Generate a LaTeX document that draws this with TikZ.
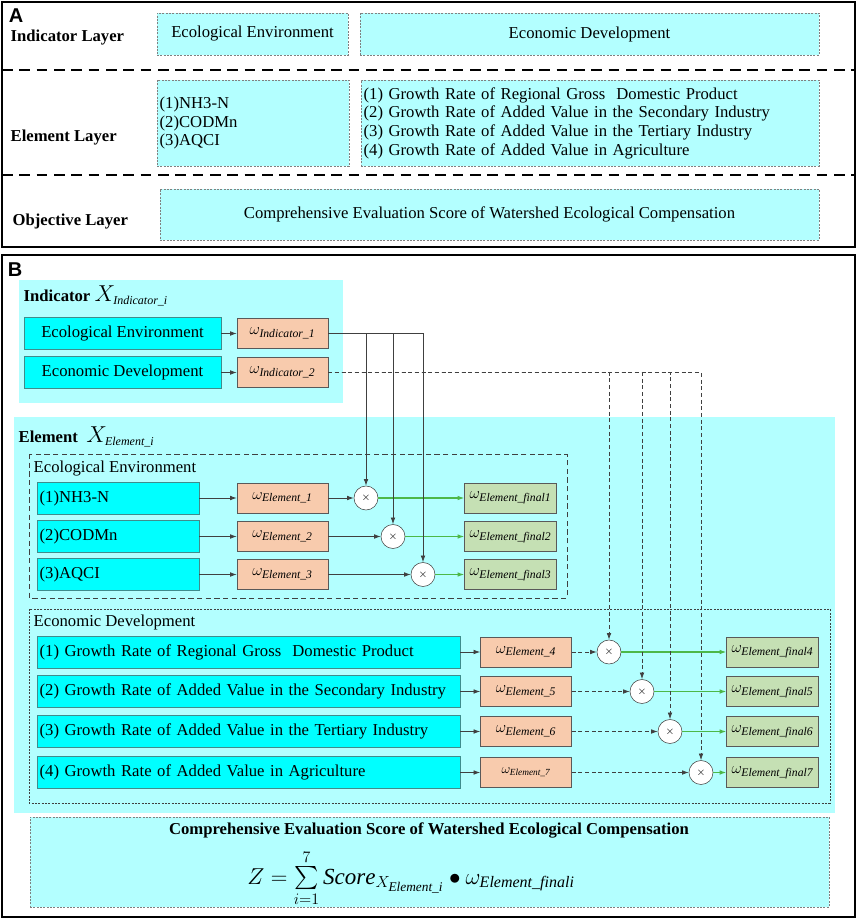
\documentclass[tikz,border=0pt]{standalone}
\usepackage{amsmath}
\usepackage{fontspec}
\setmainfont{Liberation Serif}
\setsansfont{Liberation Sans}
\usetikzlibrary{positioning,arrows.meta}

\definecolor{bgcyan}{HTML}{B3FFFF}
\definecolor{boxcyan}{HTML}{00FFFF}
\definecolor{boxedge}{HTML}{3F8C8C}
\definecolor{wsalmon}{HTML}{F8CBAD}
\definecolor{fgreen}{HTML}{C5E0B4}
\definecolor{agreen}{HTML}{4DB848}
\definecolor{lgrey}{HTML}{404040}

\newcommand{\basefont}{\fontsize{12.5}{14}\selectfont}
\newcommand{\wsub}[1]{$\omega_{\textit{#1}}$}

\begin{document}
\begin{tikzpicture}[x=0.75pt,y=-0.75pt,>={Latex[length=5pt,width=3.5pt]},
    font=\basefont,
    layerbox/.style={draw=gray,dash pattern=on 1.5pt off 1pt,fill=bgcyan,inner sep=2pt},
    cyanbox/.style={draw=boxedge,fill=boxcyan,minimum height=24pt,inner sep=2pt,align=left},
    wbox/.style={draw=gray!70!black,fill=wsalmon,minimum width=68.25pt,minimum height=22.5pt,inner sep=0pt},
    finalbox/.style={draw=gray!70!black,fill=fgreen,minimum width=69pt,minimum height=22.5pt,inner sep=0pt},
    mult/.style={draw=lgrey,circle,fill=white,minimum size=18pt,inner sep=0pt,font=\footnotesize},
    link/.style={draw=lgrey,line width=0.6pt,->},
    dlink/.style={link,dash pattern=on 3pt off 2pt},
    glink/.style={draw=agreen,line width=0.8pt,->},
    bold/.style={font=\basefont\bfseries}]
    \useasboundingbox (0,0) rectangle (858,920);

    % panel A
    \draw [line width=1.5pt] (2,2) rectangle (855,247);
    \node [font=\sffamily\bfseries\fontsize{15}{15}\selectfont] (labA) at (16,16) {A};
    \draw [line width=1.2pt,dash pattern=on 8pt off 5pt] (2,70) -- (855,70);
    \draw [line width=1.2pt,dash pattern=on 8pt off 5pt] (2,175) -- (855,175);

    \node [anchor=west,bold] (indLayer) at (6,38) {Indicator Layer};
    \node [anchor=west,bold] (elLayer) at (6,138) {Element Layer};
    \node [anchor=west,bold] (objLayer) at (8,222) {Objective Layer};

    \node [layerbox,minimum width=143.25pt,minimum height=31.5pt] (aEco) at (252.5,34) {Ecological Environment};
    \node [layerbox,minimum width=344.25pt,minimum height=31.5pt] (aEcon) at (589.5,34) {Economic Development};
    \node [layerbox,text width=140pt,minimum height=64.5pt,align=left] (aEcoEl) at (253,123)
        {(1)NH3-N\\(2)CODMn\\(3)AQCI};
    \node [layerbox,text width=339.5pt,minimum height=64.5pt,align=left] (aEconEl) at (590,123)
        {(1) Growth Rate of Regional Gross\ \ Domestic Product\\
         (2) Growth Rate of Added Value in the Secondary Industry\\
         (3) Growth Rate of Added Value in the Tertiary Industry\\
         (4) Growth Rate of Added Value in Agriculture};
    \node [layerbox,minimum width=494.25pt,minimum height=38.25pt] (aObj) at (489.5,214.5)
        {Comprehensive Evaluation Score of Watershed Ecological Compensation};

    % panel B
    \draw [line width=1.5pt] (2,255) rectangle (855,917);
    \node [font=\sffamily\bfseries\fontsize{15}{15}\selectfont] (labB) at (15,270) {B};

    \fill [bgcyan] (19,280) rectangle (343,403);
    \fill [bgcyan] (14,417) rectangle (835,813);

    \node [anchor=west] (indTitle) at (19,296)
        {\textbf{Indicator} \fontsize{16}{16}\selectfont$X_{\text{\fontsize{9}{9}\selectfont\itshape Indicator\_i}}$};
    \node [anchor=west] (elTitle) at (14,437)
        {\textbf{Element}\ \ \fontsize{16}{16}\selectfont$X_{\text{\fontsize{9}{9}\selectfont\itshape Element\_i}}$};

    \node [cyanbox,minimum width=147.75pt,align=center] (iEco) at (122.5,333.5) {Ecological Environment};
    \node [cyanbox,minimum width=147.75pt,align=center] (iEcon) at (122.5,372.5) {Economic Development};
    \node [wbox] (wInd1) at (282.5,333.5) {\wsub{Indicator\_1}};
    \node [wbox] (wInd2) at (282.5,372.5) {\wsub{Indicator\_2}};

    % ecological environment group
    \draw [lgrey,dash pattern=on 4pt off 2.5pt] (29,454) rectangle (567,598);
    \node [anchor=west] (ecoTitle) at (29,469) {Ecological Environment};

    \node [cyanbox,text width=117.5pt] (e1) at (118,498) {(1)NH3-N};
    \node [cyanbox,text width=117.5pt] (e2) at (118,536.5) {(2)CODMn};
    \node [cyanbox,text width=117.5pt] (e3) at (118,574.5) {(3)AQCI};
    \node [wbox] (we1) at (282.5,498) {\wsub{Element\_1}};
    \node [wbox] (we2) at (282.5,536.5) {\wsub{Element\_2}};
    \node [wbox] (we3) at (282.5,574.5) {\wsub{Element\_3}};
    \node [mult] (c1) at (366,498) {$\times$};
    \node [mult] (c2) at (393,536.5) {$\times$};
    \node [mult] (c3) at (423,574.5) {$\times$};
    \node [finalbox] (f1) at (510.5,498) {\wsub{Element\_final1}};
    \node [finalbox] (f2) at (510.5,536.5) {\wsub{Element\_final2}};
    \node [finalbox] (f3) at (510.5,574.5) {\wsub{Element\_final3}};

    % economic development group
    \draw [lgrey,dash pattern=on 1.5pt off 1pt] (29,609) rectangle (830,803);
    \node [anchor=west] (econTitle) at (29,622) {Economic Development};

    \node [cyanbox,text width=313.25pt] (e4) at (248.5,652) {(1) Growth Rate of Regional Gross\ \ Domestic Product};
    \node [cyanbox,text width=313.25pt] (e5) at (248.5,691.5) {(2) Growth Rate of Added Value in the Secondary Industry};
    \node [cyanbox,text width=313.25pt] (e6) at (248.5,731.5) {(3) Growth Rate of Added Value in the Tertiary Industry};
    \node [cyanbox,text width=313.25pt] (e7) at (248.5,772.5) {(4) Growth Rate of Added Value in Agriculture};
    \node [wbox] (we4) at (526,652) {\wsub{Element\_4}};
    \node [wbox] (we5) at (526,691.5) {\wsub{Element\_5}};
    \node [wbox] (we6) at (526,731.5) {\wsub{Element\_6}};
    \node [wbox,font=\fontsize{10}{10}\selectfont] (we7) at (526,772.5) {\wsub{Element\_7}};
    \node [mult] (c4) at (609,652) {$\times$};
    \node [mult] (c5) at (642,691.5) {$\times$};
    \node [mult] (c6) at (670,731.5) {$\times$};
    \node [mult] (c7) at (701,772.5) {$\times$};
    \node [finalbox] (f4) at (772.5,652) {\wsub{Element\_final4}};
    \node [finalbox] (f5) at (772.5,691.5) {\wsub{Element\_final5}};
    \node [finalbox] (f6) at (772.5,731.5) {\wsub{Element\_final6}};
    \node [finalbox] (f7) at (772.5,772.5) {\wsub{Element\_final7}};

    % connectors
    \draw [link] (iEco) -- (wInd1);
    \draw [link] (iEcon) -- (wInd2);
    \foreach \k in {1,2,3} {
        \draw [link] (wInd1.east) -| (c\k);
        \draw [link] (e\k) -- (we\k);
        \draw [link] (we\k) -- (c\k);
        \draw [glink] (c\k) -- (f\k);
    }
    \foreach \k in {4,5,6,7} {
        \draw [dlink] (wInd2.east) -| (c\k);
        \draw [link] (e\k) -- (we\k);
        \draw [dlink] (we\k) -- (c\k);
        \draw [glink] (c\k) -- (f\k);
    }

    % objective
    \node [layerbox,minimum width=599.25pt,minimum height=67.5pt] (score) at (429.5,862) {};
    \node [bold] (scoreTitle) at (429,830) {Comprehensive Evaluation Score of Watershed Ecological Compensation};
    \node [font=\LARGE,inner sep=0pt] (formula) at (411,878)
        {$Z=\sum\limits_{i=1}^{7}\mathit{Score}_{X_{\mathit{Element\_i}}}\bullet\omega_{\mathit{Element\_finali}}$};
\end{tikzpicture}
\end{document}
